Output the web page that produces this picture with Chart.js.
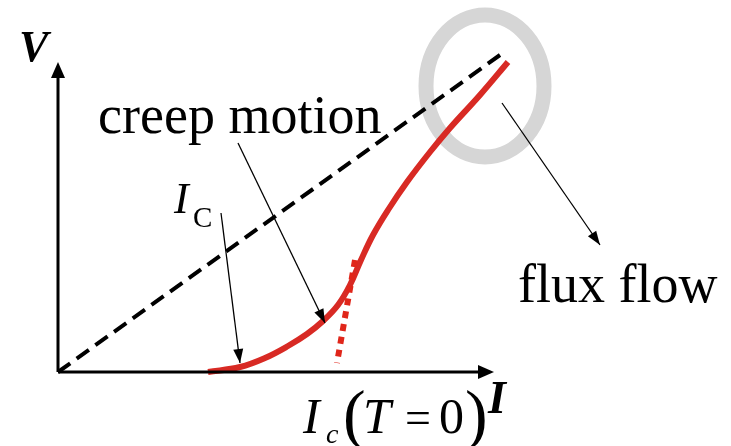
<!DOCTYPE html>
<html>
<head>
<meta charset="utf-8">
<script src="https://cdn.jsdelivr.net/npm/chart.js@4"></script>
<style>
  html, body { margin: 0; padding: 0; background: #fff; }
  canvas { display: block; }
</style>
</head>
<body>
<canvas id="ivChart" width="731" height="446"></canvas>
<script>
// V-I characteristic: ohmic line, creep branch rising into flux flow
const ohmicI = [0, 442];
const ohmicV = [0, 317];

const flowI = [150, 182, 207, 230, 249, 265, 280, 292, 303, 315, 330, 349, 372, 392, 422, 450];
const flowV = [0, 5, 14, 26, 38, 51, 67, 87, 112, 137, 162, 190, 220, 244, 277, 310];

// steep T = 0 onset
const zeroTI = [297, 279];
const zeroTV = [112, 9];

// axis extents
const axisIMax = 436;
const axisVMax = 310;

// highlighted flux flow region
const ringCenter = [427, 286];
const ringRadius = [59, 71];

// pointers: [fromI, fromV, toI, toV]
const pointers = [
  [163, 159, 182, 9],
  [180, 229, 267, 49],
  [444, 269, 542, 127]
];

const serif = '"Liberation Serif", "Times New Roman", serif';

const toPoints = (xs, ys) => xs.map((x, i) => ({ x: x, y: ys[i] }));

function arrowHead(ctx, x1, y1, x2, y2, len, half) {
  const a = Math.atan2(y2 - y1, x2 - x1);
  ctx.beginPath();
  ctx.moveTo(x2, y2);
  ctx.lineTo(x2 - len * Math.cos(a) + half * Math.sin(a), y2 - len * Math.sin(a) - half * Math.cos(a));
  ctx.lineTo(x2 - len * Math.cos(a) - half * Math.sin(a), y2 - len * Math.sin(a) + half * Math.cos(a));
  ctx.closePath();
  ctx.fill();
}

const sketchPlugin = {
  id: 'sketch',
  beforeDatasetsDraw(chart) {
    const ctx = chart.ctx;
    const sx = chart.scales.x, sy = chart.scales.y;
    const cx = sx.getPixelForValue(ringCenter[0]);
    const cy = sy.getPixelForValue(ringCenter[1]);
    const rx = Math.abs(sx.getPixelForValue(ringCenter[0] + ringRadius[0]) - cx);
    const ry = Math.abs(sy.getPixelForValue(ringCenter[1] + ringRadius[1]) - cy);
    ctx.save();
    ctx.strokeStyle = '#d6d6d6';
    ctx.lineWidth = 15;
    ctx.beginPath();
    ctx.ellipse(cx, cy, rx, ry, 0, 0, Math.PI * 2);
    ctx.stroke();
    ctx.restore();
  },
  afterDatasetsDraw(chart) {
    const ctx = chart.ctx;
    const sx = chart.scales.x, sy = chart.scales.y;
    const px = v => sx.getPixelForValue(v);
    const py = v => sy.getPixelForValue(v);
    ctx.save();
    ctx.fillStyle = '#000';

    // axis arrowheads
    arrowHead(ctx, px(0), py(0), px(0), py(axisVMax), 16, 7);
    arrowHead(ctx, px(0), py(0), px(axisIMax), py(0), 16, 7);

    // thin pointers
    ctx.strokeStyle = '#000';
    ctx.lineWidth = 1.3;
    pointers.forEach(p => {
      const x1 = px(p[0]), y1 = py(p[1]), x2 = px(p[2]), y2 = py(p[3]);
      ctx.beginPath();
      ctx.moveTo(x1, y1);
      ctx.lineTo(x2, y2);
      ctx.stroke();
      arrowHead(ctx, x1, y1, x2, y2, 14, 5);
    });

    // labels
    ctx.textBaseline = 'alphabetic';
    ctx.font = 'bold italic 44px ' + serif;
    ctx.fillText('V', 19, 61);
    ctx.font = 'bold italic 46px ' + serif;
    ctx.fillText('I', 488, 413);

    ctx.font = '54px ' + serif;
    ctx.fillText('creep motion', 98, 133);
    ctx.fillText('flux flow', 518, 302);

    ctx.font = 'italic 44px ' + serif;
    ctx.fillText('I', 174, 213);
    ctx.font = '29px ' + serif;
    ctx.fillText('C', 193, 227);

    ctx.font = 'italic 50px ' + serif;
    ctx.fillText('I', 303, 433);
    ctx.font = 'italic 28px ' + serif;
    ctx.fillText('c', 326, 443);
    ctx.font = '68px ' + serif;
    ctx.fillText('(', 343, 437);
    ctx.font = 'italic 50px ' + serif;
    ctx.fillText('T', 363, 433);
    ctx.font = '46px ' + serif;
    ctx.fillText('=', 405, 433);
    ctx.font = '50px ' + serif;
    ctx.fillText('0', 439, 433);
    ctx.font = '68px ' + serif;
    ctx.fillText(')', 465, 437);
    ctx.restore();
  }
};

new Chart(document.getElementById('ivChart'), {
  type: 'scatter',
  data: {
    datasets: [
      {
        data: [{ x: 0, y: 0 }, { x: axisIMax - 8, y: 0 }],
        showLine: true, borderColor: '#000', borderWidth: 3, pointRadius: 0
      },
      {
        data: [{ x: 0, y: 0 }, { x: 0, y: axisVMax - 8 }],
        showLine: true, borderColor: '#000', borderWidth: 3, pointRadius: 0
      },
      {
        data: toPoints(ohmicI, ohmicV),
        showLine: true, borderColor: '#000', borderWidth: 4,
        borderDash: [15, 8], pointRadius: 0
      },
      {
        data: toPoints(zeroTI, zeroTV),
        showLine: true, borderColor: '#e0261a', borderWidth: 6,
        borderDash: [7, 6], pointRadius: 0
      },
      {
        data: toPoints(flowI, flowV),
        showLine: true, borderColor: '#d82a24', borderWidth: 6,
        tension: 0.4, pointRadius: 0
      }
    ]
  },
  options: {
    responsive: false,
    animation: false,
    layout: { padding: 0 },
    plugins: { legend: { display: false }, tooltip: { enabled: false } },
    scales: {
      x: { type: 'linear', display: false, min: -58, max: 673 },
      y: { type: 'linear', display: false, min: -74, max: 372 }
    }
  },
  plugins: [sketchPlugin]
});
</script>
</body>
</html>
